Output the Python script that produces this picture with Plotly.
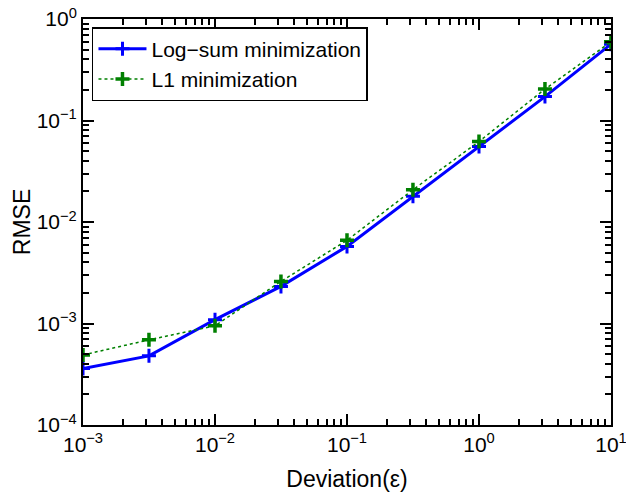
import plotly.graph_objects as go

deviation = [0.001, 0.00316, 0.01, 0.0316, 0.1, 0.316, 1.0, 3.16, 10.0]
rmse_logsum = [3.6e-4, 4.8e-4, 1.09e-3, 2.32e-3, 5.75e-3, 1.79e-2, 5.55e-2, 0.172, 0.565]
rmse_l1 = [4.9e-4, 6.9e-4, 9.5e-4, 2.6e-3, 6.6e-3, 2.08e-2, 6.2e-2, 0.204, 0.598]

x_tickvals = [1e-3, 1e-2, 1e-1, 1e0, 1e1]
x_ticktext = ["10<sup>−3</sup>", "10<sup>−2</sup>", "10<sup>−1</sup>", "10<sup>0</sup>", "10<sup>1</sup>"]
y_tickvals = [1e-4, 1e-3, 1e-2, 1e-1, 1e0]
y_ticktext = ["10<sup>−4</sup>", "10<sup>−3</sup>", "10<sup>−2</sup>", "10<sup>−1</sup>", "10<sup>0</sup>"]

FONT = "Liberation Sans, Arial, Helvetica, sans-serif"

fig = go.Figure()
fig.add_trace(go.Scatter(
    x=deviation, y=rmse_logsum, mode="lines+markers", name="Log−sum minimization",
    line=dict(color="#0000ff", width=3),
    marker=dict(symbol="cross-thin", size=10, line=dict(color="#0000ff", width=3), color="#0000ff"),
))
fig.add_trace(go.Scatter(
    x=deviation, y=rmse_l1, mode="lines+markers", name="L1 minimization",
    line=dict(color="#008000", width=1.5, dash="dot"),
    marker=dict(symbol="cross-thin", size=10, line=dict(color="#008000", width=3.5), color="#008000"),
))

axis_common = dict(
    type="log", showgrid=False, zeroline=False, automargin=False,
    showline=True, linecolor="black", linewidth=2, mirror="allticks",
    ticks="inside", ticklen=11, tickwidth=1.5, tickcolor="black",
    minor=dict(ticks="inside", ticklen=6, tickwidth=1.5, tickcolor="black", dtick="D1"),
    tickfont=dict(family=FONT, size=21, color="black"),
    ticklabeloverflow="allow",
)

fig.update_xaxes(
    **axis_common, range=[-3, 1], tickmode="array", tickvals=x_tickvals, ticktext=x_ticktext,
    title=dict(text="Deviation(ε)", font=dict(family=FONT, size=23, color="black"), standoff=16),
)
fig.update_yaxes(
    **axis_common, range=[-4, 0], tickmode="array", tickvals=y_tickvals, ticktext=y_ticktext,
    title=dict(text="RMSE", font=dict(family=FONT, size=23, color="black"), standoff=0),
)

fig.update_layout(
    width=626, height=498,
    margin=dict(l=83, r=15, t=19, b=73),
    paper_bgcolor="white", plot_bgcolor="white",
    showlegend=True,
    legend=dict(
        x=0.017, y=0.98, xanchor="left", yanchor="top",
        bgcolor="white", bordercolor="black", borderwidth=1.5,
        font=dict(family=FONT, size=21, color="black"),
        tracegroupgap=0, itemwidth=48,
    ),
)

fig.write_html("out.html", config={"displayModeBar": False},
               post_script="document.body.style.margin='0';")
